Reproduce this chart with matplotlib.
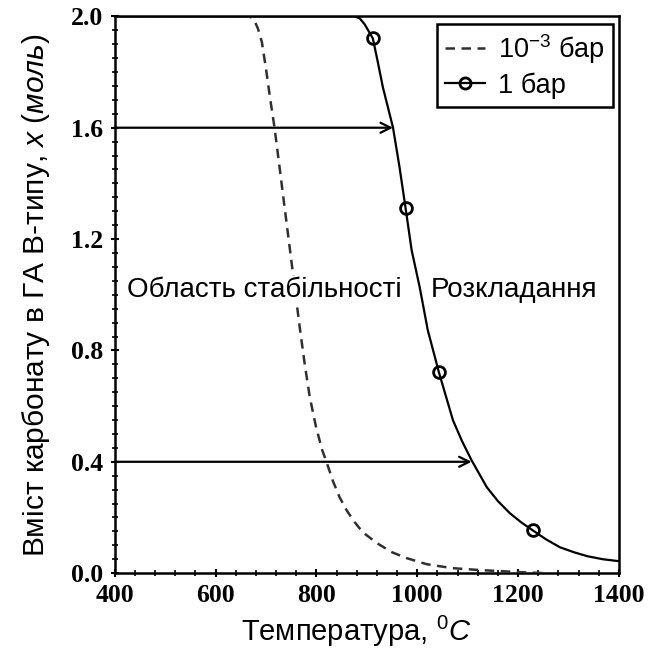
import matplotlib
matplotlib.use("Agg")
import matplotlib.pyplot as plt
from matplotlib.ticker import MultipleLocator

# values
temp_low = [400, 668, 676, 684, 692, 700, 708, 717, 727, 737, 747, 757, 767, 777,
            787, 799, 811, 821, 833, 846, 860, 876, 892, 920, 950, 979, 1019, 1069,
            1124, 1198, 1253]
x_low = [2.0, 2.0, 1.989, 1.957, 1.907, 1.813, 1.709, 1.601, 1.458, 1.314, 1.171,
         1.027, 0.883, 0.750, 0.632, 0.528, 0.445, 0.395, 0.330, 0.273, 0.226,
         0.183, 0.147, 0.108, 0.075, 0.054, 0.032, 0.018, 0.011, 0.004, 0.0]

temp_1bar = [400, 876, 886, 896, 904, 912, 922, 932, 942, 952, 965, 977, 989, 1005,
             1021, 1043, 1071, 1089, 1108, 1138, 1160, 1184, 1206, 1229, 1255, 1283,
             1311, 1337, 1368, 1400]
x_1bar = [2.0, 2.0, 1.993, 1.971, 1.946, 1.921, 1.835, 1.745, 1.673, 1.601, 1.458,
          1.311, 1.160, 1.027, 0.873, 0.722, 0.549, 0.474, 0.405, 0.309, 0.259,
          0.215, 0.183, 0.154, 0.122, 0.093, 0.075, 0.061, 0.050, 0.043]

marker_temp = [912, 977, 1043, 1229]
marker_x = [1.921, 1.311, 0.722, 0.154]

arrow_levels = [1.6, 0.4]
arrow_ends = [952, 1108]

plt.rcParams['font.family'] = ['Liberation Sans', 'DejaVu Sans']
plt.rcParams['mathtext.fontset'] = 'custom'
plt.rcParams['mathtext.rm'] = 'Liberation Sans'
plt.rcParams['mathtext.it'] = 'Liberation Sans:italic'

fig = plt.figure(figsize=(6.48, 6.55), dpi=100)
ax = fig.add_axes([0.177, 0.125, 0.778, 0.850])

ax.plot(temp_low, x_low, color='#303030', lw=1.8, dashes=(3.8, 2.6),
        label='$10^{-3}$ бар', zorder=3)
ax.plot(temp_1bar, x_1bar, color='black', lw=1.6, zorder=3)
ax.plot(marker_temp, marker_x, 'o', mfc='none', mec='black', mew=2.0, ms=8.5, zorder=4)
# legend handle for the 1 bar series
ax.plot([], [], '-o', color='black', mfc='none', mew=2.0, ms=8, lw=1.6, label='1 бар')

for lvl, end in zip(arrow_levels, arrow_ends):
    ax.annotate('', xy=(end, lvl), xytext=(400, lvl),
                arrowprops=dict(arrowstyle='->', color='black', lw=1.6,
                                mutation_scale=18, shrinkA=0, shrinkB=0),
                zorder=2)

box = dict(facecolor='white', edgecolor='none', pad=1.0)
ax.text(424, 1.016, 'Область стабільності', fontsize=20, va='center', ha='left',
        bbox=box, zorder=5)
ax.text(1027, 1.016, 'Розкладання', fontsize=20, va='center', ha='left',
        bbox=box, zorder=5)

ax.set_xlim(400, 1400)
ax.set_ylim(0, 2.0)
ax.xaxis.set_major_locator(MultipleLocator(200))
ax.xaxis.set_minor_locator(MultipleLocator(40))
ax.yaxis.set_major_locator(MultipleLocator(0.4))
ax.yaxis.set_minor_locator(MultipleLocator(0.05))
ax.yaxis.set_major_formatter(plt.FuncFormatter(lambda v, p: f"{v:.1f}"))
ax.tick_params(which='both', direction='inout', top=False, right=False)
ax.tick_params(which='major', length=6, width=1.5, pad=5)
ax.tick_params(which='minor', length=4, width=1.2)
for lab in ax.get_xticklabels() + ax.get_yticklabels():
    lab.set_fontfamily('Liberation Serif')
    lab.set_fontweight('bold')
    lab.set_fontsize(18.5)
for sp in ax.spines.values():
    sp.set_linewidth(1.8)

ax.set_xlabel('Температура, $^{0}\\mathit{C}$', fontsize=21, labelpad=5, x=0.48)
ax.set_ylabel('Вміст карбонату в ГА В-типу, $\\mathit{x\\ (моль)}$', fontsize=21.5,
              labelpad=14)

leg = ax.legend(loc='upper right', bbox_to_anchor=(0.988, 0.987), fontsize=19.5,
                fancybox=False, framealpha=1, edgecolor='black',
                handlelength=1.5, handletextpad=0.45, borderpad=0.3,
                labelspacing=0.25, borderaxespad=0)
leg.get_frame().set_linewidth(1.8)

fig.savefig('out.png', dpi=100)
